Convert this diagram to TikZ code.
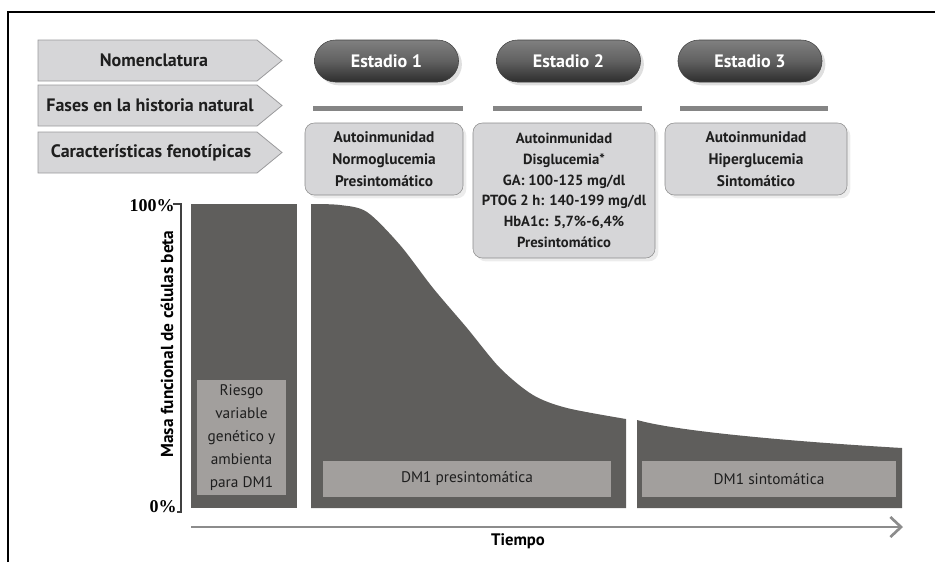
\documentclass[tikz,border=0pt]{standalone}
\usepackage{fontspec}
\setmainfont{PT Sans}
\newfontfamily\pctfont{Liberation Serif}
\usepackage{tikz}
\usetikzlibrary{shapes.misc, arrows.meta, shadows}
\definecolor{labelfill}{HTML}{D6D6D8}
\definecolor{labeldraw}{HTML}{9A9A9C}
\definecolor{massfill}{HTML}{5F5E5C}
\definecolor{periodfill}{HTML}{A29F9D}
\definecolor{phasegray}{HTML}{858585}
\definecolor{inktext}{HTML}{1E1E1E}
\tikzstyle{rowlabel} = [draw=labeldraw, fill=labelfill, line width=0.6pt]
\tikzstyle{rowtext} = [font=\fontsize{13.5}{15}\selectfont\bfseries, text=inktext]
\tikzstyle{stage} = [rounded rectangle, minimum width=114.75pt, minimum height=31.5pt, draw=black!75, top color=black!50, bottom color=black!82, middle color=black!62, drop shadow={opacity=0.25}, text=white, font=\fontsize{13.5}{15}\selectfont\bfseries]
\tikzstyle{phase} = [draw=phasegray, line width=3.75pt]
\tikzstyle{feature} = [rectangle, rounded corners=7pt, draw=black!45, fill=labelfill, drop shadow={opacity=0.15}, align=center, text=inktext, font=\fontsize{11.5}{16.5}\selectfont\bfseries]
\tikzstyle{mass} = [fill=massfill]
\tikzstyle{period} = [rectangle, fill=periodfill, text=inktext, align=center, inner sep=0pt]
\tikzstyle{arrow} = [draw=black!45, line width=2pt, -{Straight Barb[length=8pt, width=15pt]}]

\begin{document}
\begin{tikzpicture}[x=0.75pt, y=-0.75pt]
\useasboundingbox (0,0) rectangle (935,562);

% frame
\draw [line width=0.8pt] (8,562) -- (8,12) -- (935,12);

% row labels
\draw [rowlabel] (38,40) -- (257,40) -- (282,60.5) -- (257,81) -- (38,81) -- cycle;
\draw [rowlabel] (38,85) -- (257,85) -- (282,105.5) -- (257,126) -- (38,126) -- cycle;
\draw [rowlabel] (38,132) -- (257,132) -- (282,152.5) -- (257,173) -- (38,173) -- cycle;
\node (nomen) [rowtext] at (154,60.5) {Nomenclatura};
\node (fases) [rowtext] at (150,105.5) {Fases en la historia natural};
\node (caract) [rowtext] at (151,152.5) {Características fenotípicas};

% stages
\node (st1) [stage] at (386.5,61) {Estadio 1};
\node (st2) [stage] at (568.5,61) {Estadio 2};
\node (st3) [stage] at (750,61) {Estadio 3};

\draw [phase] (313,108) -- (463,108);
\draw [phase] (493,108) -- (642,108);
\draw [phase] (680,108) -- (828,108);

% features
\node (feat1) [feature, minimum width=118.5pt, minimum height=54pt] at (384,159) {Autoinmunidad\\Normoglucemia\\Presintomático};
\node (feat2) [feature, minimum width=136.5pt, minimum height=101.25pt, font=\fontsize{11}{15.5}\selectfont\bfseries] at (564,190.5) {Autoinmunidad\\Disglucemia*\\GA: 100-125 mg/dl\\PTOG 2 h: 140-199 mg/dl\\HbA1c: 5,7\%-6,4\%\\Presintomático};
\node (feat3) [feature, minimum width=136.5pt, minimum height=54pt] at (756,159) {Autoinmunidad\\Hiperglucemia\\Sintomático};

% beta cell mass
\fill [mass] (191,204) rectangle (297,508);
\fill [mass] (311,508) -- plot [smooth] coordinates {(311,204) (340,205) (367,212) (400,245) (433,288) (467,328) (500,368) (533,395) (567,408) (626,419)} -- (626,508) -- cycle;
\fill [mass] (637,508) -- (637,420) .. controls (680,432) and (800,442) .. (902,448) -- (902,508) -- cycle;

\node (riesgo) [period, minimum width=66.75pt, minimum height=86.25pt, font=\fontsize{11.5}{17.25}\selectfont] at (241.5,437.5) {Riesgo\\variable\\genético y\\ambienta\\para DM1};
\node (presint) [period, minimum width=216pt, minimum height=27pt, font=\fontsize{11.5}{14}\selectfont] at (467,479) {DM1 presintomática};
\node (sint) [period, minimum width=190.5pt, minimum height=27pt, font=\fontsize{11.5}{14}\selectfont] at (769,479) {DM1 sintomática};

% axes
\draw [draw=black!75, line width=0.8pt] (173,204) -- (181,204) -- (181,512) -- (177,512);
\node (top) [anchor=east, inner sep=0pt, font=\pctfont\fontsize{13.5}{15}\selectfont\bfseries] at (175,206) {100\%};
\node (zero) [anchor=east, inner sep=0pt, font=\pctfont\fontsize{13.5}{15}\selectfont\bfseries] at (177,507) {0\%};
\node (ylab) [rotate=90, font=\fontsize{13}{15}\selectfont\bfseries] at (167,344) {Masa funcional de células beta};

\coordinate (t0) at (191,527);
\coordinate (t1) at (903,527);
\draw [arrow] (t0) -- (t1);
\node (tiempo) [font=\fontsize{12.5}{15}\selectfont\bfseries] at (518,541) {Tiempo};

\end{tikzpicture}
\end{document}
